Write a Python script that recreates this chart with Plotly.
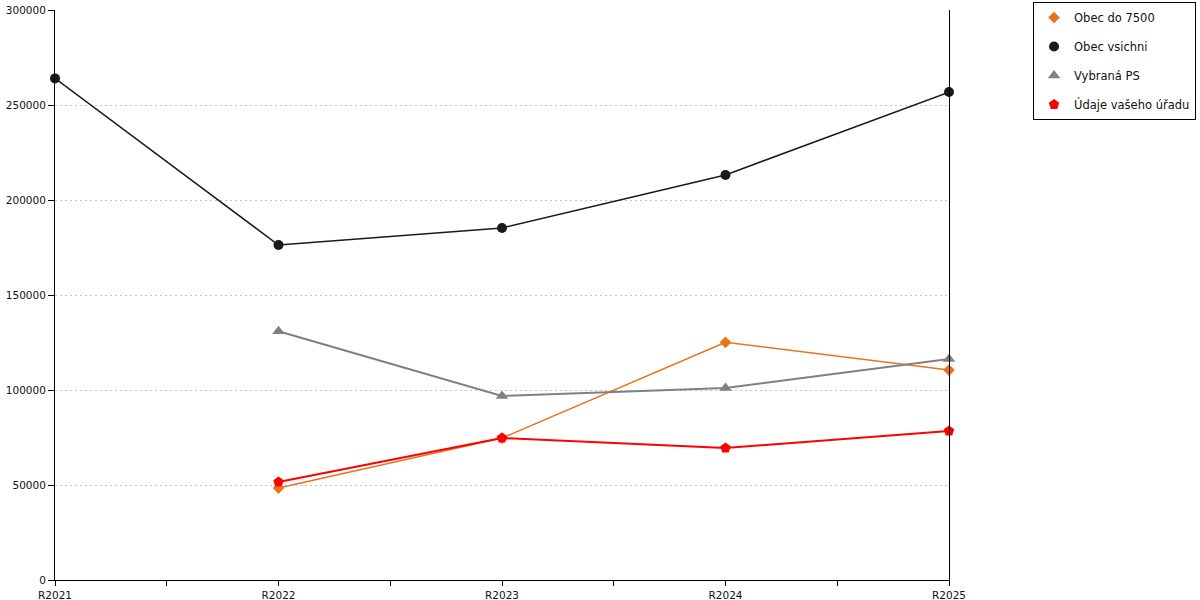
import plotly.graph_objects as go

years = ['R2021', 'R2022', 'R2023', 'R2024', 'R2025']

obec_do_7500 = [None, 48400, 74700, 125100, 110500]
obec_vsichni = [264000, 176300, 185300, 213200, 256800]
vybrana_ps = [None, 130900, 96900, 101000, 116300]
udaje_uradu = [None, 51600, 74700, 69500, 78400]

series = [
    ('Obec do 7500', obec_do_7500, '#e8731b', 'diamond', 9, 1.5),
    ('Obec vsichni', obec_vsichni, '#1a1a1a', 'circle', 10, 1.5),
    ('Vybraná PS', vybrana_ps, '#808080', 'triangle-up', 11, 2),
    ('Údaje vašeho úřadu', udaje_uradu, '#ff0000', 'pentagon', 11, 2),
]

xpos = list(range(len(years)))

fig = go.Figure()
for i, (name, vals, col, sym, size, lw) in enumerate(series):
    fig.add_trace(go.Scatter(
        x=xpos, y=vals, mode='lines+markers', name=name,
        line=dict(color=col, width=lw),
        marker=dict(symbol=sym, size=size, color=col),
        cliponaxis=False, showlegend=False, connectgaps=False))
    # legend-only entry, marker without line
    fig.add_trace(go.Scatter(
        x=[None], y=[None], mode='markers', name=name,
        marker=dict(symbol=sym, size=size, color=col),
        legendgroup='g%d' % i, showlegend=True))

tickvals = [v / 2 for v in range(2 * len(years) - 1)]
ticktext = [years[int(v)] if v == int(v) else '' for v in tickvals]

fig.update_layout(
    width=1200, height=600,
    margin=dict(l=55, r=251, t=10, b=20, autoexpand=False),
    plot_bgcolor='white', paper_bgcolor='white',
    font=dict(family='DejaVu Sans', size=10.5, color='#111'),
    legend=dict(
        x=1.094, y=1.014, xanchor='left', yanchor='top',
        bordercolor='black', borderwidth=1,
        font=dict(size=11.5), tracegroupgap=10, traceorder='grouped',
        itemwidth=30),
    xaxis=dict(
        range=[0, len(years) - 1], tickmode='array',
        tickvals=tickvals, ticktext=ticktext, automargin=False,
        showgrid=False, zeroline=False,
        showline=True, linecolor='black', linewidth=1,
        ticks='outside', ticklen=5, tickcolor='black'),
    yaxis=dict(
        range=[0, 300000], dtick=50000, automargin=False,
        showgrid=True, gridcolor='#c4c4c4', griddash='2px,3px', gridwidth=1,
        zeroline=False, showline=True, linecolor='black', linewidth=1,
        mirror=True, ticks='outside', ticklen=6, tickcolor='black',
        tickformat='d'),
)

fig.write_html('out.html', config={'displayModeBar': False},
               post_script="document.body.style.margin='0';")
